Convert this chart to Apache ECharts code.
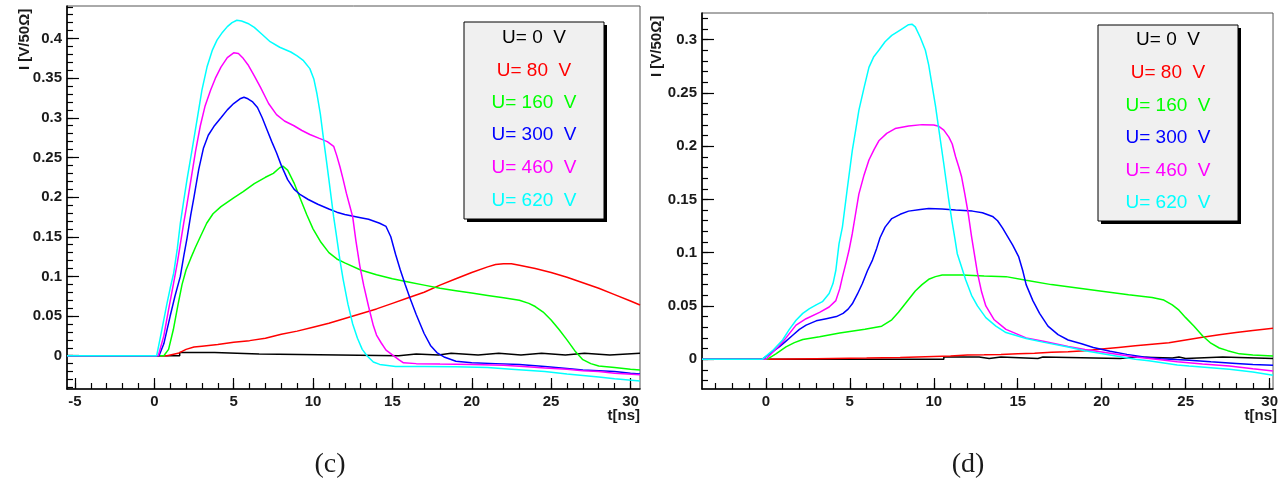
<!DOCTYPE html>
<html><head><meta charset="utf-8">
<script src="https://cdn.jsdelivr.net/npm/echarts@6/dist/echarts.min.js"></script>
<style>html,body{margin:0;padding:0;background:#fff}#chart{width:1281px;height:486px}</style>
</head><body><div id="chart"></div>
<script>
// ---------- names / tick labels ----------
const seriesNames = ['U= 0  V','U= 80  V','U= 160  V','U= 300  V','U= 460  V','U= 620  V'];
const panelCaptions = ['(c)', '(d)'];
const yTitle = 'I [V/50\u03A9]';
const xTitle = 't[ns]';

const xMajorC = [-5,0,5,10,15,20,25,30];
const xMinorC = [-5,-4,-3,-2,-1,0,1,2,3,4,5,6,7,8,9,10,11,12,13,14,15,16,17,18,19,20,21,22,23,24,25,26,27,28,29,30];
const yMajorC = [0,0.05,0.1,0.15,0.2,0.25,0.3,0.35,0.4];
const yMinorC = [-0.04,-0.03,-0.02,-0.01,0,0.01,0.02,0.03,0.04,0.05,0.06,0.07,0.08,0.09,0.1,0.11,0.12,0.13,0.14,0.15,0.16,0.17,0.18,0.19,0.2,0.21,0.22,0.23,0.24,0.25,0.26,0.27,0.28,0.29,0.3,0.31,0.32,0.33,0.34,0.35,0.36,0.37,0.38,0.39,0.4,0.41,0.42,0.43,0.44];

const xMajorD = [0,5,10,15,20,25,30];
const xMinorD = [-3,-2,-1,0,1,2,3,4,5,6,7,8,9,10,11,12,13,14,15,16,17,18,19,20,21,22,23,24,25,26,27,28,29,30];
const yMajorD = [0,0.05,0.1,0.15,0.2,0.25,0.3];
const yMinorD = [-0.02,-0.01,0,0.01,0.02,0.03,0.04,0.05,0.06,0.07,0.08,0.09,0.1,0.11,0.12,0.13,0.14,0.15,0.16,0.17,0.18,0.19,0.2,0.21,0.22,0.23,0.24,0.25,0.26,0.27,0.28,0.29,0.3,0.31,0.32];

const xRangeC = [-5.5, 30.6], yRangeC = [-0.042, 0.441];
const xRangeD = [-3.8, 30.2], yRangeD = [-0.028, 0.325];

// ---------- panel (c) data: [t (ns), I (V/50 Ohm)] ----------
const c_U0 = [[-5.5,0],[1.6,0.004],[3.8,0.002],[6.6,0],[15.4,0.002],[16.5,0.001],[17.9,0.003],[18.7,0.001],[20.4,0.003],[21.7,0.001],[23.1,0.003],[24.4,0.001],[25.9,0.003],[27.1,0.001],[28.7,0.003],[30.6,0.003]];
const c_U80 = [[-5.5,0],[0.8,0],[1.5,0.003],[2,0.008],[2.5,0.011],[3,0.012],[4,0.014],[5,0.017],[6,0.019],[7,0.022],[8,0.027],[9,0.031],[10,0.036],[11,0.041],[12,0.047],[13,0.053],[14,0.059],[15,0.066],[16,0.073],[17,0.080],[18,0.089],[19,0.097],[20,0.105],[21,0.112],[21.5,0.115],[22,0.116],[22.5,0.116],[23,0.114],[24,0.110],[25,0.105],[26,0.099],[27,0.092],[28,0.085],[29,0.077],[30,0.069],[30.6,0.064]];
const c_U160 = [[-5.5,0],[0.6,0],[0.9,0.008],[1.2,0.033],[1.5,0.065],[1.75,0.09],[2,0.108],[2.3,0.123],[2.6,0.137],[2.9,0.15],[3.3,0.167],[3.7,0.179],[4.2,0.188],[5,0.199],[5.6,0.207],[6.3,0.217],[7,0.225],[7.5,0.230],[7.9,0.237],[8.1,0.239],[8.4,0.234],[8.8,0.218],[9.2,0.198],[9.6,0.178],[10,0.160],[10.5,0.143],[11,0.130],[11.5,0.122],[12,0.117],[13,0.108],[14,0.102],[15,0.097],[16,0.093],[17,0.089],[18,0.085],[19,0.082],[20,0.079],[21,0.076],[22,0.073],[23,0.070],[23.6,0.066],[24,0.062],[24.5,0.055],[25,0.045],[25.5,0.033],[26,0.020],[26.5,0.006],[27,-0.005],[27.5,-0.010],[28,-0.013],[29,-0.015],[30,-0.017],[30.6,-0.018]];
const c_U300 = [[-5.5,0],[0.3,0],[0.6,0.015],[1,0.05],[1.3,0.075],[1.64,0.10],[1.85,0.125],[2.06,0.148],[2.3,0.178],[2.5,0.2],[2.8,0.235],[3.1,0.262],[3.4,0.278],[3.75,0.289],[4.2,0.300],[4.6,0.310],[5.0,0.318],[5.4,0.324],[5.65,0.326],[5.9,0.324],[6.2,0.32],[6.5,0.313],[6.8,0.300],[7.1,0.285],[7.4,0.27],[7.7,0.256],[8.0,0.24],[8.4,0.222],[8.8,0.210],[9.2,0.203],[9.7,0.197],[10.3,0.191],[11,0.185],[11.5,0.181],[12,0.178],[13,0.174],[13.5,0.172],[14.2,0.167],[14.6,0.163],[14.9,0.150],[15.2,0.128],[15.5,0.108],[15.8,0.090],[16.1,0.073],[16.5,0.052],[17,0.028],[17.4,0.013],[17.8,0.004],[18.3,-0.002],[19,-0.007],[20,-0.009],[21.5,-0.010],[23,-0.011],[24.6,-0.0135],[26,-0.016],[27,-0.018],[28,-0.019],[29,-0.020],[30,-0.022],[30.6,-0.023]];
const c_U460 = [[-5.5,0],[0.25,0],[0.6,0.025],[0.9,0.058],[1.2,0.09],[1.45,0.117],[1.65,0.142],[1.85,0.167],[2.05,0.19],[2.27,0.217],[2.6,0.258],[2.9,0.29],[3.2,0.315],[3.55,0.335],[3.85,0.35],[4.2,0.364],[4.6,0.376],[5.0,0.382],[5.3,0.381],[5.6,0.375],[5.9,0.367],[6.3,0.353],[6.7,0.338],[7.2,0.318],[7.7,0.304],[8.2,0.296],[8.8,0.290],[9.3,0.284],[9.8,0.279],[10.4,0.274],[10.9,0.270],[11.3,0.264],[11.5,0.252],[11.7,0.238],[11.9,0.222],[12.1,0.205],[12.3,0.19],[12.5,0.175],[12.7,0.145],[12.95,0.113],[13.2,0.088],[13.5,0.062],[13.8,0.038],[14.0,0.026],[14.3,0.016],[14.6,0.007],[15,0.001],[15.4,-0.005],[15.7,-0.009],[16.5,-0.010],[18,-0.0105],[20,-0.011],[22,-0.012],[23.5,-0.014],[24.6,-0.0155],[26,-0.017],[27,-0.019],[28,-0.020],[29,-0.022],[30.6,-0.024]];
const c_U620 = [[-5.5,0],[0.15,0],[0.45,0.03],[0.8,0.066],[1.0,0.085],[1.22,0.104],[1.45,0.135],[1.64,0.167],[1.85,0.195],[2.06,0.222],[2.4,0.262],[2.69,0.297],[3.0,0.335],[3.32,0.364],[3.65,0.385],[3.95,0.398],[4.3,0.408],[4.6,0.415],[4.9,0.42],[5.2,0.423],[5.5,0.422],[5.9,0.419],[6.3,0.414],[6.8,0.405],[7.3,0.396],[7.9,0.389],[8.6,0.383],[9.0,0.378],[9.4,0.372],[9.8,0.362],[10.05,0.349],[10.25,0.33],[10.46,0.305],[10.65,0.275],[10.85,0.245],[11.0,0.222],[11.3,0.175],[11.45,0.155],[11.7,0.12],[11.9,0.096],[12.2,0.065],[12.5,0.04],[12.8,0.022],[13.1,0.008],[13.4,0.0],[13.8,-0.008],[14.2,-0.011],[15.2,-0.0135],[17,-0.0135],[19,-0.014],[21,-0.015],[22.5,-0.017],[24.6,-0.020],[26,-0.023],[27,-0.025],[28,-0.027],[29,-0.029],[30.6,-0.032]];

// ---------- panel (d) data ----------
const d_U0 = [[-3.8,0],[10.6,0.002],[12.7,0.0007],[13.3,0.002],[14,0.0007],[16.2,0.002],[16.5,0.0007],[21.1,0.002],[22,0.001],[24.2,0.002],[24.6,0.0007],[25,0.002],[27.2,0.0007],[30.2,0.0007]];
const d_U80 = [[-3.8,0],[0,0],[3,0.0005],[6,0.001],[8,0.0015],[10,0.0025],[11,0.003],[12,0.004],[13,0.0042],[14,0.0045],[15,0.005],[16,0.0055],[17,0.0065],[18,0.007],[19,0.008],[20,0.0095],[21,0.011],[22,0.0125],[23,0.014],[24,0.0155],[25,0.018],[26,0.0205],[27,0.023],[28,0.025],[29,0.027],[30.2,0.029]];
const d_U160 = [[-3.8,0],[0.1,0],[0.6,0.005],[1.2,0.0115],[1.7,0.0155],[2.2,0.0185],[3.2,0.021],[4.4,0.0245],[5.9,0.028],[6.9,0.031],[7.5,0.037],[7.9,0.044],[8.3,0.052],[8.9,0.064],[9.3,0.070],[9.7,0.075],[10.1,0.0775],[10.5,0.079],[11.7,0.079],[13,0.078],[14.3,0.0775],[15.5,0.074],[17,0.070],[18,0.068],[19.9,0.064],[21.6,0.0605],[23,0.058],[23.7,0.0555],[24.2,0.051],[24.6,0.046],[25,0.039],[25.5,0.031],[26,0.022],[26.5,0.015],[27,0.0105],[27.5,0.008],[28.2,0.005],[29,0.004],[30.2,0.003]];
const d_U300 = [[-3.8,0],[-0.2,0],[0.3,0.006],[0.8,0.0115],[1.2,0.017],[1.6,0.0225],[2.0,0.028],[2.4,0.032],[3.0,0.036],[3.6,0.038],[4.2,0.040],[4.6,0.043],[4.9,0.047],[5.15,0.052],[5.45,0.061],[5.75,0.071],[6.05,0.083],[6.35,0.093],[6.6,0.104],[6.8,0.114],[7.1,0.124],[7.5,0.132],[8.0,0.136],[8.5,0.139],[9.2,0.1405],[9.7,0.1414],[10.5,0.141],[11.3,0.140],[12.3,0.139],[12.9,0.1375],[13.5,0.134],[13.8,0.130],[14.1,0.123],[14.4,0.115],[14.7,0.107],[15.06,0.096],[15.3,0.083],[15.5,0.07],[15.9,0.055],[16.3,0.043],[16.8,0.031],[17.4,0.023],[18,0.018],[18.8,0.0145],[19.5,0.011],[20.5,0.0075],[21.5,0.0045],[22.5,0.002],[23.5,0.0005],[25,-0.0008],[26.5,-0.0025],[28,-0.004],[29,-0.005],[30.2,-0.0058]];
const d_U460 = [[-3.8,0],[0,0],[0.5,0.008],[1.0,0.016],[1.4,0.024],[1.8,0.032],[2.4,0.038],[3.2,0.044],[3.77,0.049],[4.17,0.055],[4.4,0.066],[4.56,0.077],[4.8,0.092],[4.95,0.102],[5.15,0.118],[5.35,0.137],[5.54,0.155],[5.85,0.173],[6.14,0.187],[6.45,0.197],[6.73,0.205],[7.2,0.212],[7.7,0.2165],[8.5,0.219],[9.3,0.2202],[10.0,0.2198],[10.3,0.2186],[10.6,0.215],[10.9,0.2085],[11.1,0.202],[11.3,0.19],[11.5,0.18],[11.66,0.171],[11.85,0.155],[12.05,0.137],[12.25,0.115],[12.6,0.081],[12.85,0.063],[13.1,0.050],[13.6,0.037],[14.3,0.028],[15.5,0.020],[16.6,0.0165],[18,0.012],[19,0.009],[20.5,0.0055],[22,0.002],[23.5,-0.0005],[24.5,-0.0025],[26,-0.0045],[27.6,-0.0065],[29,-0.009],[30.2,-0.011]];
const d_U620 = [[-3.8,0],[-0.2,0],[0.4,0.008],[1.0,0.018],[1.4,0.028],[1.8,0.0366],[2.2,0.043],[2.6,0.0475],[3.0,0.051],[3.37,0.054],[3.77,0.0616],[4.0,0.071],[4.17,0.0835],[4.36,0.1085],[4.56,0.124],[4.85,0.160],[5.15,0.196],[5.35,0.215],[5.54,0.2336],[5.85,0.255],[6.14,0.274],[6.43,0.284],[6.73,0.290],[7.1,0.298],[7.5,0.304],[8.0,0.309],[8.5,0.314],[8.7,0.3145],[8.9,0.312],[9.2,0.302],[9.5,0.290],[9.7,0.276],[9.88,0.259],[10.1,0.238],[10.28,0.218],[10.6,0.183],[10.87,0.152],[11.07,0.131],[11.27,0.112],[11.4,0.099],[11.9,0.0745],[12.25,0.06],[12.6,0.05],[13.1,0.039],[13.7,0.031],[14.3,0.025],[15.5,0.0195],[16.5,0.016],[18,0.0115],[19,0.008],[20.5,0.004],[22,0.0],[22.8,-0.0015],[24.5,-0.0055],[25.2,-0.0065],[26.5,-0.008],[27.6,-0.0095],[29,-0.012],[30.2,-0.015]];

// ---------- styles ----------
const seriesColors = ['#000000','#ff0000','#00ff00','#0000ff','#ff00ff','#00ffff'];
const panelC = [c_U0, c_U80, c_U160, c_U300, c_U460, c_U620];
const panelD = [d_U0, d_U80, d_U160, d_U300, d_U460, d_U620];

const LABEL_FONT = { fontFamily: 'Liberation Sans, Arial, sans-serif', fontSize: 15, fontWeight: 'bold', color: '#1a1a1a' };
const fmt = v => String(Math.round(v * 1000) / 1000);

function xAxes(grid, range, major, minor) {
  const base = { type: 'value', gridIndex: grid, min: range[0], max: range[1], position: 'bottom', splitLine: { show: false } };
  return [
    Object.assign({}, base, {
      axisLine: { show: true, onZero: false, lineStyle: { color: '#000', width: 1.6 } },
      axisTick: { show: true, inside: true, length: 11, customValues: major, lineStyle: { color: '#000', width: 1.2 } },
      axisLabel: Object.assign({ show: true, margin: 5, customValues: major, formatter: fmt }, LABEL_FONT)
    }),
    Object.assign({}, base, {
      axisLine: { show: false, onZero: false },
      axisTick: { show: true, inside: true, length: 6, customValues: minor, lineStyle: { color: '#000', width: 1.2 } },
      axisLabel: { show: false }
    })
  ];
}
function yAxes(grid, range, major, minor) {
  const base = { type: 'value', gridIndex: grid, min: range[0], max: range[1], position: 'left', splitLine: { show: false } };
  return [
    Object.assign({}, base, {
      axisLine: { show: true, onZero: false, lineStyle: { color: '#000', width: 1.6 } },
      axisTick: { show: true, inside: true, length: 12, customValues: major, lineStyle: { color: '#000', width: 1.2 } },
      axisLabel: Object.assign({ show: true, margin: 5, customValues: major, formatter: fmt }, LABEL_FONT)
    }),
    Object.assign({}, base, {
      axisLine: { show: false, onZero: false },
      axisTick: { show: true, inside: true, length: 6, customValues: minor, lineStyle: { color: '#000', width: 1.2 } },
      axisLabel: { show: false }
    })
  ];
}

const series = [];
[panelC, panelD].forEach((panel, p) => {
  panel.forEach((data, i) => {
    series.push({
      type: 'line', name: seriesNames[i], data: data,
      xAxisIndex: p * 2, yAxisIndex: p * 2,
      step: i === 0 ? 'end' : false,
      symbol: 'none', clip: true, z: 2 + i,
      lineStyle: { color: seriesColors[i], width: 1.5 },
      itemStyle: { color: seriesColors[i] },
      silent: true
    });
  });
});

function legendBox(x, y, w, h, rowY) {
  const children = [
    { type: 'rect', shape: { x: x + 3, y: y + 3, width: w, height: h }, style: { fill: '#000' } },
    { type: 'rect', shape: { x: x, y: y, width: w, height: h }, style: { fill: '#f0f0f0', stroke: '#000', lineWidth: 1 } }
  ];
  seriesNames.forEach((n, i) => {
    children.push({ type: 'text', x: x + w / 2, y: rowY[i],
      style: { text: n, fill: seriesColors[i], font: '19px "Liberation Sans", Arial, sans-serif', align: 'center', verticalAlign: 'middle' } });
  });
  return { type: 'group', children: children };
}
function textEl(x, y, text, font, align, rot) {
  return { type: 'text', x: x, y: y, rotation: rot || 0,
    style: { text: text, fill: '#1a1a1a', font: font, align: align, verticalAlign: 'middle' } };
}
const TITLE_FONT = 'bold 15px "Liberation Sans", Arial, sans-serif';
const CAP_FONT = '28px "Liberation Serif", "Times New Roman", serif';

const option = {
  animation: false,
  backgroundColor: '#fff',
  grid: [
    { left: 67, top: 6, width: 573, height: 383, show: true, borderColor: '#555', borderWidth: 1, backgroundColor: 'transparent' },
    { left: 702, top: 13, width: 575, height: 376, show: true, borderColor: '#555', borderWidth: 1, backgroundColor: 'transparent' }
  ],
  xAxis: [].concat(xAxes(0, xRangeC, xMajorC, xMinorC), xAxes(1, xRangeD, xMajorD, xMinorD)),
  yAxis: [].concat(yAxes(0, yRangeC, yMajorC, yMinorC), yAxes(1, yRangeD, yMajorD, yMinorD)),
  series: series,
  graphic: [
    legendBox(464, 22, 140, 197, [38, 71, 103, 135, 168, 201]),
    legendBox(1098, 25, 140, 196, [40, 73, 106, 138, 171, 203]),
    textEl(25, 70, yTitle, TITLE_FONT, 'left', Math.PI / 2),
    textEl(657, 77, yTitle, TITLE_FONT, 'left', Math.PI / 2),
    textEl(640, 416, xTitle, TITLE_FONT, 'right'),
    textEl(1277, 416, xTitle, TITLE_FONT, 'right'),
    textEl(330, 465, panelCaptions[0], CAP_FONT, 'center'),
    textEl(968, 465, panelCaptions[1], CAP_FONT, 'center')
  ]
};
const chart = echarts.init(document.getElementById('chart'), null, { renderer: 'canvas' });
chart.setOption(option);
</script>
</body></html>
